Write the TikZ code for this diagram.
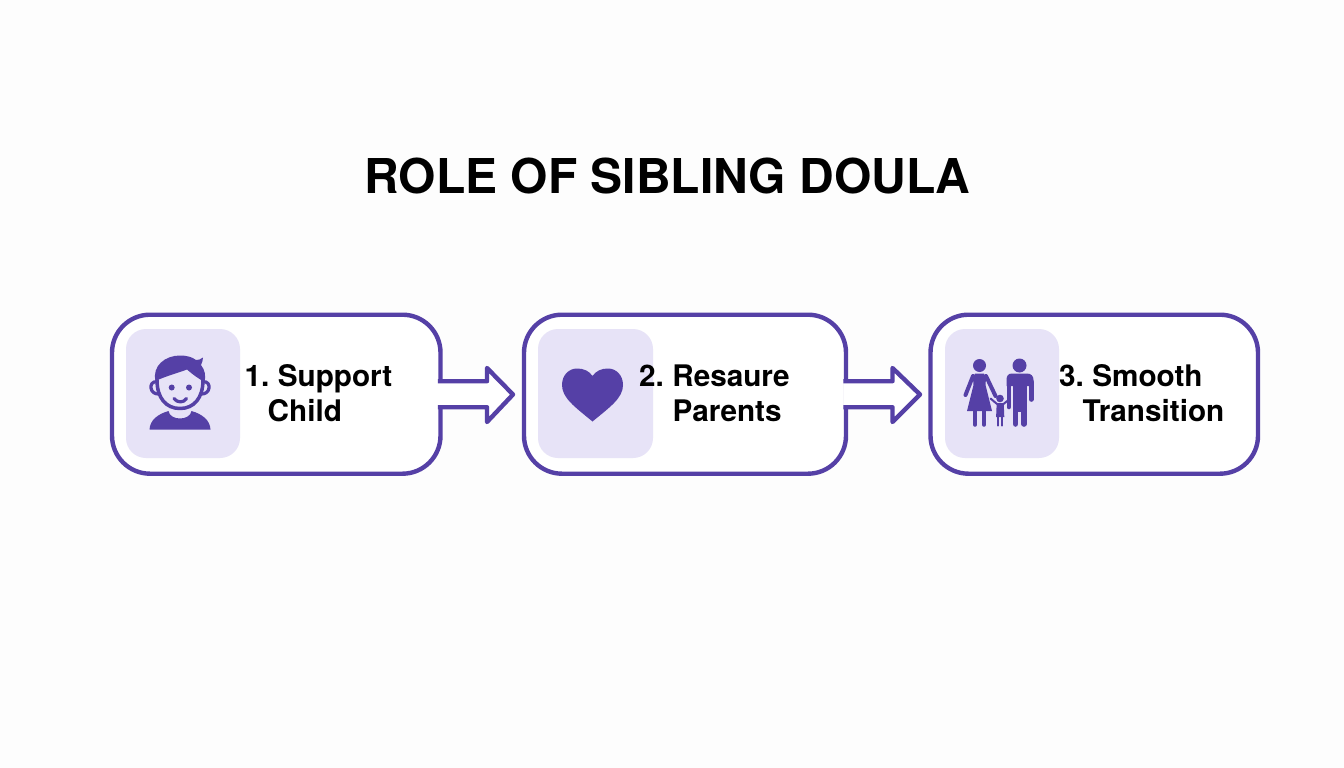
\documentclass[tikz,border=0pt]{standalone}
\usepackage{fontspec}
\setmainfont{TeX Gyre Heros}
\newfontfamily\labelfont[WordSpace=0.68]{TeX Gyre Heros}
\definecolor{vio}{HTML}{5540A6}
\definecolor{tile}{HTML}{E7E3F7}
\definecolor{bg}{HTML}{FDFDFD}
\tikzset{
  stepbox/.style={draw=vio,line width=4.4pt,rounded corners=38pt,fill=white,minimum height=159pt,inner sep=0pt,outer sep=0pt,anchor=north west},
  tilebox/.style={fill=tile,rounded corners=20pt,minimum height=129pt,inner sep=0pt,outer sep=0pt,anchor=north west},
  label/.style={font=\labelfont\bfseries\fontsize{29.7}{30}\selectfont,text=black,inner sep=0pt,anchor=base west},
  flow/.style={draw=vio,line width=4.4pt,fill=white,line join=round},
  limb/.style={draw=vio,line cap=round,line join=round},
}
\begin{document}
\begin{tikzpicture}[x=1pt,y=-1pt]
\useasboundingbox (0,0) rectangle (1344,768);
\fill[bg] (0,0) rectangle (1344,768);
\node[font=\bfseries\fontsize{48}{50}\selectfont,inner sep=0pt,anchor=base] (title) at (667.5,193) {ROLE OF SIBLING DOULA};
% boxes
\node[stepbox,minimum width=328.5pt] (b1) at (112,314.7) {};
\node[stepbox,minimum width=322pt] (b2) at (524,314.7) {};
\node[stepbox,minimum width=327.5pt] (b3) at (930.5,314.7) {};
\node[tilebox,minimum width=114pt] (t1) at (126,329) {};
\node[tilebox,minimum width=115pt] (t2) at (538,329) {};
\node[tilebox,minimum width=114pt] (t3) at (945,329) {};
% arrows
\draw[flow] ([shift={(-2.7,-13)}]b1.east) -- (487,381.2) -- (487,368) -- (513,394.5) -- (487,422) -- (487,407.2) -- ([shift={(-2.7,13)}]b1.east);
\draw[flow] ([shift={(-2.7,-13)}]b2.east) -- (892.5,381.2) -- (892.5,368) -- (920,394.5) -- (892.5,422) -- (892.5,407.2) -- ([shift={(-2.7,13)}]b2.east);
% boy
\fill[vio] (149.5,429.5) .. controls (150,420) and (158,414) .. (168.5,411) .. controls (170,421) and (190,421) .. (191.5,411) .. controls (202,414) and (210,420) .. (210.5,429.5) -- cycle;
\draw[limb,line width=3.5pt] (157,380) .. controls (157,398) and (166,408.5) .. (180,408.5) .. controls (194,408.5) and (203,398) .. (203,380);
\draw[limb,line width=3.2pt] (157,381.5) .. controls (152,381.5) and (150.5,385) .. (151,388) .. controls (151.5,392) and (155,394.5) .. (159.5,394);
\draw[limb,line width=3.2pt] (203,381.5) .. controls (208,381.5) and (209.5,385) .. (209,388) .. controls (208.5,392) and (205,394.5) .. (200.5,394);
\fill[vio] (155.5,381) .. controls (152,366) and (165,355.5) .. (180,355.5) .. controls (187,355.5) and (192,357) .. (196,360) .. controls (198,360) and (201,359.5) .. (203,357.5) .. controls (203,360) and (202,363) .. (201,365) .. controls (205,370) and (206,376) .. (204.5,382) .. controls (199,379) and (192,374) .. (187,369.5) .. controls (178,373) and (166,376) .. (155.5,381) -- cycle;
\fill[vio] (171.7,387.5) circle (3pt) (189,387.5) circle (3pt);
\draw[limb,line width=3.2pt] (174,398.5) .. controls (177,403) and (184,403) .. (186.5,398.5);
% heart
\fill[vio] (592.5,421.5) .. controls (575,407) and (562,398) .. (562,385) .. controls (562,375) and (569,368.5) .. (577,368.5) .. controls (584,368.5) and (589,371) .. (592.5,376) .. controls (596,371) and (601,368.5) .. (608,368.5) .. controls (616,368.5) and (623,375) .. (623,385) .. controls (623,398) and (610,407) .. (592.5,421.5) -- cycle;
% family: woman
\fill[vio] (979.5,365.5) circle (6.5pt) (1019.5,365.5) circle (7pt);
\fill[vio] (975,373.5) -- (984,373.5) -- (986,378) -- (985.5,385) -- (992,411) -- (967,411) -- (973.5,385) -- (973,378) -- cycle;
\draw[limb,line width=4pt] (973,376) -- (965.5,395) (986,376) -- (995.5,396);
\draw[limb,line width=4.6pt] (975,411) -- (975,424.5) (984,411) -- (984,424.5);
% family: man
\fill[vio] (1012,373.5) -- (1027,373.5) .. controls (1031,373.5) and (1033.5,376) .. (1033.5,380) -- (1033.5,386) -- (1006.5,386) -- (1006.5,380) .. controls (1006.5,376) and (1008,373.5) .. (1012,373.5) -- cycle;
\fill[vio] (1012.5,384) rectangle (1027,412);
\draw[limb,line width=4.6pt] (1008.8,382) -- (1008.8,407) (1031.2,382) -- (1031.2,399.5);
\draw[limb,line width=5.6pt] (1015.5,410) -- (1015.5,424) (1024,410) -- (1024,424);
% family: child
\fill[vio] (1000,398.5) circle (3.8pt);
\fill[vio] (996.7,403) -- (1003.7,403) -- (1004.3,417) -- (996.1,417) -- cycle;
\draw[limb,line width=2pt] (997,404) -- (990.5,398.5) (1003.5,404) -- (1008.5,400);
\draw[limb,line width=2.4pt] (998.2,417) -- (998.2,425.5) (1002,417) -- (1002,425.5);
% labels
\node[label] (l1a) at (244.5,386.5) {1. Support};
\node[label] (l1b) at (267.5,421) {Child};
\node[label] (l2a) at (639,386.5) {2. Resaure};
\node[label] (l2b) at (672.5,421) {Parents};
\node[label] (l3a) at (1059,386.5) {3. Smooth};
\node[label] (l3b) at (1082.5,421) {Transition};
\end{tikzpicture}
\end{document}
